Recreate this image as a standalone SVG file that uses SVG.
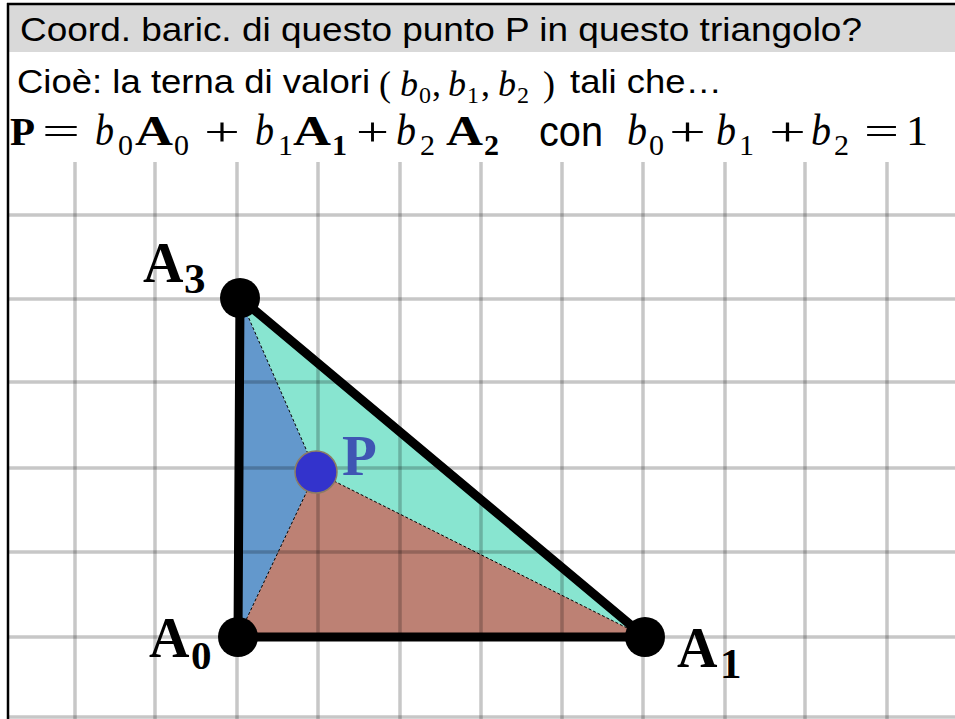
<svg xmlns="http://www.w3.org/2000/svg" width="955" height="719" viewBox="0 0 955 719">
<style>
.sans{font-family:"Liberation Sans",Arial,sans-serif;fill:#000}
.m{font-family:"Liberation Serif","Times New Roman",serif;fill:#000}
.mi{font-style:italic}
.mb{font-weight:bold}
.grid line{stroke:#000;stroke-opacity:0.22;stroke-width:3.5}
.edge{stroke:#000;stroke-width:9;stroke-linecap:round;fill:none}
.dash{stroke:#000;stroke-width:1;stroke-dasharray:3 2;fill:none}
.vtx{fill:#000}
.lbl{font-family:"Liberation Serif","Times New Roman",serif;font-weight:bold;fill:#000}
</style>
<rect x="0" y="0" width="955" height="719" fill="#fff"/>
<!-- header -->
<rect x="8" y="4" width="947" height="48" fill="#d9d9d9"/>
<line x1="7" y1="4" x2="955" y2="4" stroke="#000" stroke-width="2.5"/>
<line x1="8" y1="3" x2="8" y2="719" stroke="#000" stroke-width="2.5"/>
<text class="sans" x="20" y="41" font-size="33" textLength="842" lengthAdjust="spacingAndGlyphs">Coord. baric. di questo punto P in questo triangolo?</text>
<text class="sans" x="17" y="93" font-size="33" textLength="353" lengthAdjust="spacingAndGlyphs">Cioè: la terna di valori</text>
<g class="m" font-size="36">
<text x="379" y="96">(</text>
<text class="mi" x="400" y="96" textLength="18" lengthAdjust="spacingAndGlyphs">b</text><text x="419" y="103" font-size="24">0</text><text x="432" y="96">,</text>
<text class="mi" x="448" y="96" textLength="18" lengthAdjust="spacingAndGlyphs">b</text><text x="467" y="103" font-size="24">1</text><text x="481" y="96">,</text>
<text class="mi" x="498" y="96" textLength="18" lengthAdjust="spacingAndGlyphs">b</text><text x="517" y="103" font-size="24">2</text>
<text x="543" y="96">)</text>
</g>
<text class="sans" x="570" y="93" font-size="33" textLength="152" lengthAdjust="spacingAndGlyphs">tali che…</text>
<!-- formula -->
<g class="m" font-size="40">
<text class="mb" x="10" y="145" textLength="25" lengthAdjust="spacingAndGlyphs">P</text>
<text x="42" y="145" textLength="38" lengthAdjust="spacingAndGlyphs">=</text>
<text class="mi" x="95" y="145" font-size="44" textLength="19" lengthAdjust="spacingAndGlyphs">b</text>
<text x="118" y="155" font-size="30">0</text>
<text class="mb" x="135" y="145" font-size="42" textLength="38" lengthAdjust="spacingAndGlyphs">A</text>
<text x="174" y="155" font-size="30">0</text>
<text x="204" y="145" textLength="36" lengthAdjust="spacingAndGlyphs">+</text>
<text class="mi" x="255" y="145" font-size="44" textLength="19" lengthAdjust="spacingAndGlyphs">b</text>
<text x="278" y="155" font-size="30">1</text>
<text class="mb" x="293" y="145" font-size="42" textLength="38" lengthAdjust="spacingAndGlyphs">A</text>
<text class="mb" x="332" y="155" font-size="30">1</text>
<text x="356" y="145" textLength="33" lengthAdjust="spacingAndGlyphs">+</text>
<text class="mi" x="396" y="145" font-size="44" textLength="20" lengthAdjust="spacingAndGlyphs">b</text>
<text x="420" y="155" font-size="30">2</text>
<text class="mb" x="446" y="145" font-size="42" textLength="37" lengthAdjust="spacingAndGlyphs">A</text>
<text class="mb" x="484" y="155" font-size="30">2</text>
<text class="mi" x="627" y="145" font-size="44" textLength="20" lengthAdjust="spacingAndGlyphs">b</text>
<text x="649" y="155" font-size="30">0</text>
<text x="669" y="145" textLength="37" lengthAdjust="spacingAndGlyphs">+</text>
<text class="mi" x="716" y="145" font-size="44" textLength="20" lengthAdjust="spacingAndGlyphs">b</text>
<text x="739" y="155" font-size="30">1</text>
<text x="769" y="145" textLength="37" lengthAdjust="spacingAndGlyphs">+</text>
<text class="mi" x="811" y="145" font-size="44" textLength="20" lengthAdjust="spacingAndGlyphs">b</text>
<text x="834" y="155" font-size="30">2</text>
<text x="864" y="145" textLength="35" lengthAdjust="spacingAndGlyphs">=</text>
<text x="906" y="145" font-size="42" textLength="22" lengthAdjust="spacingAndGlyphs">1</text>
</g>
<text class="sans" x="539" y="146" font-size="42" textLength="64" lengthAdjust="spacingAndGlyphs">con</text>
<!-- regions -->
<g id="regions">
<polygon points="238,637 240,298 316,472" fill="#6398cc"/>
<polygon points="240,298 645,637 316,472" fill="#88e5d0"/>
<polygon points="238,637 645,637 316,472" fill="#bd8174"/>
</g>
<!-- grid -->
<g class="grid">
<line x1="75" y1="162" x2="75" y2="719"/>
<line x1="155" y1="162" x2="155" y2="719"/>
<line x1="237" y1="162" x2="237" y2="719"/>
<line x1="318" y1="162" x2="318" y2="719"/>
<line x1="400" y1="162" x2="400" y2="719"/>
<line x1="481" y1="162" x2="481" y2="719"/>
<line x1="562" y1="162" x2="562" y2="719"/>
<line x1="643" y1="162" x2="643" y2="719"/>
<line x1="725" y1="162" x2="725" y2="719"/>
<line x1="805" y1="162" x2="805" y2="719"/>
<line x1="887" y1="162" x2="887" y2="719"/>
<line x1="9" y1="215" x2="955" y2="215"/>
<line x1="9" y1="299" x2="955" y2="299"/>
<line x1="9" y1="382" x2="955" y2="382"/>
<line x1="9" y1="468" x2="955" y2="468"/>
<line x1="9" y1="552" x2="955" y2="552"/>
<line x1="9" y1="637" x2="955" y2="637"/>
<line x1="9" y1="717" x2="955" y2="717" stroke-opacity="0.12"/>
</g>
<!-- connectors -->
<g id="connectors">
<line class="dash" x1="316" y1="472" x2="238" y2="637"/>
<line class="dash" x1="316" y1="472" x2="645" y2="637"/>
<line class="dash" x1="316" y1="472" x2="240" y2="298"/>
<line class="edge" x1="238" y1="637" x2="645" y2="637"/>
<line class="edge" x1="238" y1="637" x2="240" y2="298"/>
<line class="edge" x1="240" y1="298" x2="645" y2="637"/>
</g>
<!-- nodes -->
<g id="node-A3">
<circle class="vtx" cx="240" cy="298" r="20"/>
<text class="lbl" x="143" y="282" font-size="56">A</text>
<text class="lbl" x="184" y="293" font-size="43">3</text>
</g>
<g id="node-A0">
<circle class="vtx" cx="238" cy="637" r="20"/>
<text class="lbl" x="149" y="657" font-size="56">A</text>
<text class="lbl" x="191" y="669" font-size="41">0</text>
</g>
<g id="node-A1">
<circle class="vtx" cx="645" cy="637" r="20"/>
<text class="lbl" x="677" y="667" font-size="56">A</text>
<text class="lbl" x="720" y="678" font-size="43">1</text>
</g>
<g id="node-P">
<circle cx="316" cy="472" r="21" fill="#3333cc" stroke="#8c7c64" stroke-width="1.5"/>
<text class="lbl" x="342" y="475" font-size="57" style="fill:#3f55b3">P</text>
</g>
</svg>
